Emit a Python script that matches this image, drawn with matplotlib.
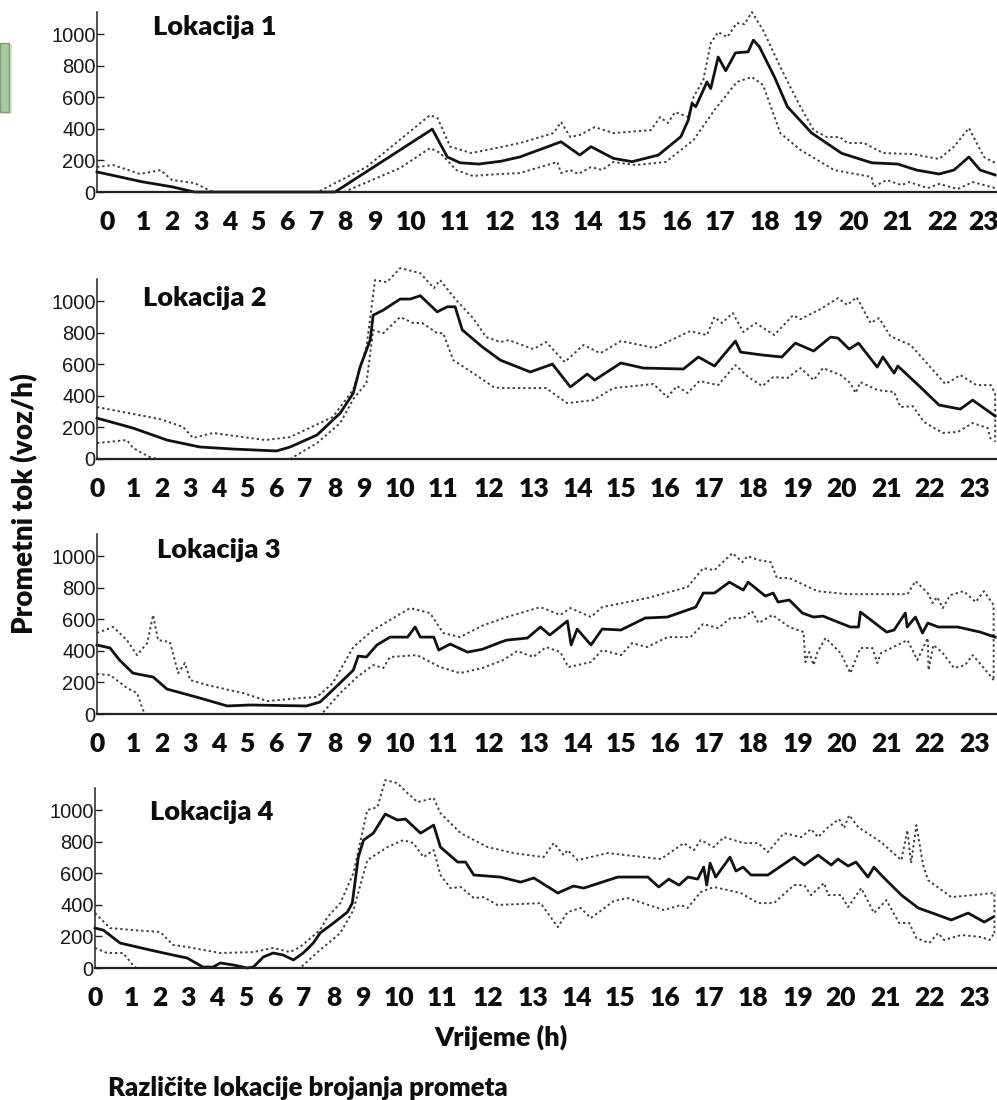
import matplotlib
matplotlib.use("Agg")
import matplotlib.pyplot as plt
from matplotlib.patches import Rectangle

# hours on the original (linear) time axis, flows in voz/h
loc1_mean_h = [0.0, 1.2, 2.0, 2.6, 6.36, 8.96, 9.36, 9.7, 10.2, 10.8, 11.3, 12.4, 12.9, 13.2, 13.8, 14.3, 15.0, 15.6,
               15.8, 15.9, 16.0, 16.3, 16.4, 16.6, 16.8, 17.06, 17.4, 17.54, 17.7, 18.1, 18.45, 19.1, 19.9, 20.7,
               21.4, 21.9, 22.5, 22.9, 23.3, 23.6, 24.0]
loc1_mean_v = [127, 65, 33, 0, 0, 398, 222, 185, 177, 195, 222, 318, 234, 287, 213, 192, 234, 350,
               455, 561, 540, 697, 655, 855, 768, 881, 888, 962, 920, 730, 540, 373, 245, 185,
               177, 139, 114, 139, 222, 139, 108]
loc1_up_h = [0.0, 0.43, 1.15, 1.7, 2.0, 2.6, 3.1, 5.9, 7.2, 8.9, 9.1, 9.44, 10.0, 10.5, 11.3, 12.2, 12.4, 12.65,
             12.9, 13.3, 13.8, 14.8, 15.05, 15.25, 15.45, 15.8, 15.94, 16.2, 16.4, 16.6, 16.84, 17.1, 17.3, 17.5,
             17.8, 18.26, 18.8, 19.15, 19.5, 19.85, 20.05, 20.5, 21.0, 21.8, 22.5, 22.9, 23.3, 23.7, 24.0]
loc1_up_v = [158, 171, 114, 139, 76, 57, 0, 0, 158, 487, 468, 287, 247, 270, 310, 373, 443, 348,
             361, 411, 373, 392, 475, 437, 506, 475, 601, 709, 943, 1013, 981, 1070, 1063, 1139,
             1025, 791, 538, 392, 348, 348, 310, 310, 247, 240, 209, 287, 405, 222, 184]
loc1_lo_h = [0.0, 6.6, 8.1, 8.9, 9.17, 9.6, 10.05, 10.5, 11.3, 12.3, 12.4, 12.65, 12.86, 13.2, 13.5, 13.8, 14.4,
             15.2, 15.94, 16.5, 17.1, 17.5, 17.8, 18.26, 18.8, 19.7, 20.7, 20.75, 21.1, 21.5, 21.7, 22.2, 22.5,
             23.0, 23.4, 24.0]
loc1_lo_v = [0, 0, 152, 278, 247, 139, 101, 110, 120, 190, 120, 139, 114, 158, 139, 190, 171,
             190, 329, 519, 697, 728, 677, 373, 266, 139, 95, 32, 76, 44, 63, 25, 51,
             19, 63, 25]

loc2_mean_h = [0.0, 0.96, 1.87, 2.75, 3.64, 4.8, 5.16, 5.88, 6.5, 6.85, 7.03, 7.3, 7.38, 7.65, 8.1, 8.37, 8.64,
               9.09, 9.36, 9.57, 9.76, 10.3, 10.78, 11.58, 12.17, 12.65, 13.1, 13.3, 14.0, 14.6, 15.67, 16.07,
               16.5, 17.06, 17.2, 17.8, 18.3, 18.66, 19.15, 19.6, 19.8, 20.1, 20.35, 20.85, 21.0, 21.3, 21.4,
               22.0, 22.5, 23.07, 23.4, 24.0]
loc2_mean_v = [259, 196, 120, 76, 63, 51, 76, 152, 291, 418, 582, 753, 911, 943, 1013, 1013, 1034,
               932, 964, 964, 818, 709, 626, 551, 601, 456, 538, 500, 608, 576, 570, 646,
               589, 747, 677, 658, 646, 734, 684, 772, 766, 696, 734, 582, 646, 544, 589,
               456, 342, 316, 373, 272]
loc2_up_h = [0.0, 1.68, 2.3, 2.57, 3.1, 4.5, 5.16, 6.3, 6.85, 7.2, 7.43, 7.75, 8.1, 8.64, 9.0, 9.17, 9.6, 10.05,
             10.4, 10.78, 11.0, 11.66, 12.0, 12.5, 13.0, 13.45, 14.0, 14.9, 15.85, 16.3, 16.5, 16.7, 16.99,
             17.27, 17.6, 18.1, 18.6, 18.8, 19.33, 19.8, 20.05, 20.3, 20.67, 20.9, 21.2, 21.74, 22.27, 22.67,
             22.9, 23.07, 23.5, 23.88, 24.0, 24.0]
loc2_up_v = [329, 253, 203, 133, 165, 120, 139, 266, 440, 709, 1133, 1120, 1209, 1177, 1082, 1133, 1006, 892,
             772, 741, 753, 696, 741, 614, 722, 670, 747, 703, 810, 785, 899, 861, 924,
             804, 861, 785, 911, 886, 949, 1019, 975, 1025, 861, 892, 778, 722, 582, 475,
             506, 532, 468, 468, 418, 108]
loc2_lo_h = [0.0, 0.8, 0.96, 1.4, 1.6, 5.16, 5.88, 6.5, 6.85, 7.2, 7.38, 7.65, 8.1, 8.45, 8.7, 9.09, 9.25, 9.52,
             10.05, 10.6, 10.78, 12.0, 12.56, 13.26, 13.8, 14.87, 15.24, 15.5, 15.78, 16.1, 16.6, 17.06, 17.4,
             17.78, 18.07, 18.45, 18.8, 19.15, 19.4, 19.87, 20.13, 20.27, 20.4, 20.85, 21.3, 21.47, 21.8,
             22.1, 22.6, 23.0, 23.4, 23.8, 23.9]
loc2_lo_v = [101, 120, 70, 13, 0, 0, 101, 228, 380, 481, 816, 797, 899, 861, 861, 797, 797, 626,
             544, 456, 449, 449, 354, 373, 449, 475, 392, 462, 418, 494, 468, 595, 519,
             462, 519, 513, 576, 500, 576, 532, 481, 418, 487, 437, 424, 329, 335,
             234, 165, 171, 228, 196, 108]

loc3_mean_h = [0.0, 0.35, 0.6, 0.96, 1.5, 1.87, 2.75, 3.48, 4.09, 5.6, 5.96, 6.3, 6.85, 6.98, 7.2, 7.48, 7.83,
               8.3, 8.5, 8.64, 9.0, 9.13, 9.44, 9.9, 10.3, 10.8, 10.95, 11.5, 11.85, 12.1, 12.57, 12.67, 12.83,
               13.2, 13.5, 14.0, 14.65, 15.24, 16.0, 16.2, 16.5, 16.9, 17.27, 17.4, 17.86, 18.07, 18.2, 18.5,
               18.85, 19.15, 19.4, 20.13, 20.35, 20.4, 21.1, 21.3, 21.6, 21.65, 21.87, 22.06, 22.2, 22.48,
               23.0, 23.6, 24.0]
loc3_mean_v = [437, 418, 342, 259, 234, 158, 101, 51, 57, 51, 76, 152, 278, 367, 361, 437, 487,
               487, 551, 487, 487, 405, 443, 392, 410, 456, 468, 481, 551, 500, 589, 437, 538,
               437, 538, 532, 608, 614, 677, 766, 766, 835, 785, 835, 747, 766, 709, 722,
               639, 614, 620, 551, 551, 646, 519, 532, 639, 551, 614, 513, 576, 551,
               551, 519, 487]
loc3_up_h = [0.0, 0.43, 0.8, 1.07, 1.34, 1.5, 1.63, 1.95, 2.17, 2.35, 2.49, 2.94, 3.64, 3.9, 4.55, 5.43, 5.88,
             6.3, 6.85, 7.38, 8.37, 8.9, 9.25, 9.7, 10.3, 10.95, 11.85, 12.38, 12.65, 13.2, 13.5, 14.7, 15.78,
             16.2, 16.5, 16.98, 17.25, 17.38, 17.68, 18.0, 18.17, 18.5, 19.25, 20.05, 21.66, 21.87, 22.2,
             22.33, 22.45, 22.6, 22.8, 23.16, 23.48, 23.7, 23.96, 23.96]
loc3_up_v = [513, 551, 468, 373, 449, 627, 468, 456, 259, 323, 215, 184, 146, 133, 82, 101, 108,
             196, 424, 532, 671, 639, 513, 487, 560, 614, 677, 627, 671, 614, 677, 734, 804,
             924, 911, 1019, 962, 1000, 975, 962, 861, 861, 778, 759, 759, 842, 766,
             703, 741, 671, 753, 778, 709, 778, 690, 215]
loc3_lo_h = [0.0, 0.35, 0.8, 1.07, 1.23, 1.3, 6.0, 6.5, 6.95, 7.38, 7.65, 7.83, 8.55, 9.17, 9.7, 10.3, 10.86,
             11.23, 11.66, 12.0, 12.38, 12.6, 13.2, 13.5, 14.0, 14.3, 14.7, 15.24, 15.86, 16.2, 16.6, 16.93,
             17.27, 17.5, 17.68, 18.05, 18.5, 18.88, 18.93, 19.03, 19.15, 19.25, 19.47, 19.87, 20.13, 20.4,
             20.72, 20.85, 20.95, 21.66, 21.92, 22.2, 22.22, 22.35, 22.6, 22.9, 23.2, 23.4, 23.7, 23.96]
loc3_lo_v = [253, 247, 165, 133, 25, 0, 0, 133, 234, 310, 291, 361, 373, 297, 259, 291, 342,
             399, 361, 424, 392, 297, 329, 405, 373, 449, 424, 487, 487, 570, 544, 608,
             608, 652, 576, 627, 551, 519, 329, 392, 310, 392, 481, 386, 259, 418,
             418, 323, 386, 468, 342, 481, 278, 437, 386, 291, 310, 373, 291, 215]

loc4_mean_h = [0.0, 0.22, 0.67, 1.47, 2.08, 2.46, 2.88, 3.15, 3.34, 3.69, 4.06, 4.22, 4.49, 4.75, 5.02, 5.29,
               5.55, 5.82, 6.0, 6.36, 6.73, 6.86, 7.02, 7.16, 7.42, 7.74, 8.06, 8.28, 8.68, 9.03, 9.21, 9.67,
               9.88, 10.1, 10.81, 11.35, 11.7, 12.34, 12.76, 13.03, 13.94, 14.74, 15.03, 15.3, 15.57, 15.81,
               16.07, 16.23, 16.31, 16.4, 16.55, 16.93, 17.09, 17.28, 17.49, 17.94, 18.64, 18.91, 19.28, 19.63,
               19.81, 20.08, 20.29, 20.61, 20.77, 20.96, 21.5, 21.95, 22.48, 22.83, 23.28, 23.71, 23.95]
loc4_mean_v = [253, 240, 158, 114, 82, 63, 6, 6, 32, 19, 0, 6, 70, 95, 82, 51,
               95, 158, 221, 285, 354, 411, 702, 810, 854, 975, 937, 943, 854, 905, 766, 671,
               671, 589, 576, 544, 570, 475, 519, 506, 576, 576, 513, 563, 525, 576,
               563, 639, 525, 664, 576, 702, 614, 639, 589, 589, 702, 652, 715, 652,
               690, 646, 671, 576, 639, 589, 462, 380, 335, 304, 348, 291, 323]
loc4_up_h = [0.0, 0.4, 1.01, 1.74, 2.08, 2.46, 3.34, 4.22, 4.75, 5.2, 5.47, 6.0, 6.2, 6.54, 6.89, 7.16, 7.26,
             7.53, 7.74, 8.06, 8.33, 8.6, 9.03, 9.21, 9.75, 10.47, 11.16, 11.96, 12.23, 12.5, 12.6, 12.87, 13.67,
             15.09, 15.7, 15.97, 16.15, 16.5, 16.77, 17.3, 17.68, 17.94, 18.37, 18.83, 19.09, 19.28, 19.55,
             19.84, 19.97, 20.11, 20.35, 20.96, 21.5, 21.66, 21.76, 21.9, 22.08, 22.21, 22.83, 23.98, 23.98]
loc4_up_v = [348, 253, 240, 228, 146, 133, 95, 101, 127, 101, 133, 240, 323, 411, 601, 892, 1000,
             1019, 1190, 1171, 1108, 1051, 1076, 981, 854, 766, 728, 702, 791, 715, 747, 683, 728,
             690, 791, 747, 810, 766, 829, 791, 791, 734, 854, 829, 880, 829, 892,
             943, 886, 968, 892, 797, 683, 873, 664, 905, 652, 557, 449, 475, 221]
loc4_lo_h = [0.0, 0.32, 0.75, 1.01, 1.1, 5.47, 6.0, 6.54, 6.89, 7.26, 7.8, 8.22, 8.49, 8.76, 9.03, 9.21, 9.48,
             9.75, 10.1, 10.36, 10.73, 11.88, 12.34, 12.6, 12.95, 13.22, 13.83, 14.2, 15.17, 15.62, 15.8, 16.15,
             16.5, 17.22, 17.68, 18.1, 18.64, 18.91, 19.09, 19.44, 19.55, 19.89, 20.08, 20.43, 20.77, 21.1,
             21.44, 21.71, 21.9, 22.24, 22.48, 22.64, 23.1, 23.63, 23.85, 23.98]
loc4_lo_v = [127, 95, 95, 19, 0, 0, 114, 221, 367, 683, 766, 810, 791, 702, 747, 589, 506,
             513, 443, 449, 399, 411, 259, 354, 380, 316, 424, 443, 367, 399, 380, 481,
             513, 475, 411, 411, 525, 525, 462, 538, 462, 462, 386, 506, 348, 430,
             285, 285, 190, 158, 221, 177, 209, 196, 177, 221]

# hour labels, as they sit under each panel (the labels in the source are pasted on unevenly)
hour_labels = [str(h) for h in range(24)]
label_pos_top = [0.27, 1.23, 2.01, 2.78, 3.56, 4.30, 5.08, 5.86, 6.63, 7.43, 8.40, 9.57, 10.78, 11.98,
                 13.13, 14.30, 15.51, 16.66, 17.86, 19.01, 20.21, 21.39, 22.59, 23.69]
label_pos_rest = [0.0, 0.96, 1.74, 2.49, 3.24, 4.01, 4.79, 5.56, 6.36, 7.14, 8.10, 9.25, 10.48, 11.68,
                  12.86, 14.01, 15.19, 16.36, 17.54, 18.74, 19.89, 21.09, 22.25, 23.45]
y_ticks = [0, 200, 400, 600, 800, 1000]
titles = ["Lokacija 1", "Lokacija 2", "Lokacija 3", "Lokacija 4"]

W, H = 997, 1100
BOLD = ["Lato", "DejaVu Sans"]
NARROW = ["Liberation Sans Narrow", "Liberation Sans", "DejaVu Sans"]
INK = "#0d0d0d"

fig = plt.figure(figsize=(W / 100, H / 100), dpi=100)
fig.patch.set_facecolor("white")

panels = [
    (97, 192, 153, 27, label_pos_top, loc1_mean_h, loc1_mean_v, loc1_up_h, loc1_up_v, loc1_lo_h, loc1_lo_v),
    (97, 459, 143, 298, label_pos_rest, loc2_mean_h, loc2_mean_v, loc2_up_h, loc2_up_v, loc2_lo_h, loc2_lo_v),
    (97, 714, 157, 550, label_pos_rest, loc3_mean_h, loc3_mean_v, loc3_up_h, loc3_up_v, loc3_lo_h, loc3_lo_v),
    (95, 968, 150, 812, label_pos_rest, loc4_mean_h, loc4_mean_v, loc4_up_h, loc4_up_v, loc4_lo_h, loc4_lo_v),
]

for i, (x0, y0, tx, ty, lpos, mh, mv, uh, uv, lh, lv) in enumerate(panels):
    ax = fig.add_axes([x0 / W, 1 - y0 / H, (W - x0) / W, 180 / H])
    ax.set_xlim(0, 24.05)
    ax.set_ylim(0, 1140)
    for s in ["top", "right"]:
        ax.spines[s].set_visible(False)
    ax.spines["left"].set_linewidth(1.1)
    ax.spines["bottom"].set_linewidth(1.6)
    ax.spines["left"].set_color("#222222")
    ax.spines["bottom"].set_color("#222222")

    dots = dict(color="#404040", lw=1.4, linestyle=(0, (1.2, 1.5)), clip_on=False)
    ax.plot(uh, uv, **dots)
    ax.plot(lh, lv, **dots)
    ax.plot(mh, mv, color="#111111", lw=2.0, clip_on=False, solid_joinstyle="round")

    ax.set_yticks(y_ticks)
    ax.set_yticklabels([str(v) for v in y_ticks], family=NARROW, fontsize=14.5, color="#1a1a1a")
    ax.tick_params(axis="y", direction="in", length=5, width=1.0, pad=1, color="#222222")

    ax.set_xticks(lpos)
    ax.set_xticklabels(hour_labels, family=BOLD, fontweight="heavy", fontsize=19, color=INK)
    ax.tick_params(axis="x", length=0, pad=13)

    fig.text(tx / W, 1 - ty / H, titles[i], family=BOLD, fontweight="heavy", fontsize=19.5,
             ha="left", va="center", color=INK)

fig.text(25 / W, 1 - 504 / H, "Prometni tok (voz/h)", family=BOLD, fontweight="heavy", fontsize=20,
         rotation=90, ha="center", va="center", color=INK)
fig.text(501 / W, 1 - 1037 / H, "Vrijeme (h)", family=BOLD, fontweight="heavy", fontsize=19.5,
         ha="center", va="center", color=INK)
fig.text(108 / W, 1 - 1088 / H, "Različite lokacije brojanja prometa", family=BOLD, fontweight="heavy",
         fontsize=18.5, ha="left", va="center", color=INK)

# green button cut off at the left edge
fig.patches.append(Rectangle((2 / W, 1 - 114 / H), 10 / W, 70 / H, transform=fig.transFigure,
                             facecolor="#d0d0d0", edgecolor="none", alpha=0.6))
fig.patches.append(Rectangle((0, 1 - 112 / H), 9 / W, 69 / H, transform=fig.transFigure,
                             facecolor="#a3c99c", edgecolor="#76a070", lw=1.0))

fig.savefig("out.png", dpi=100, facecolor="white")
